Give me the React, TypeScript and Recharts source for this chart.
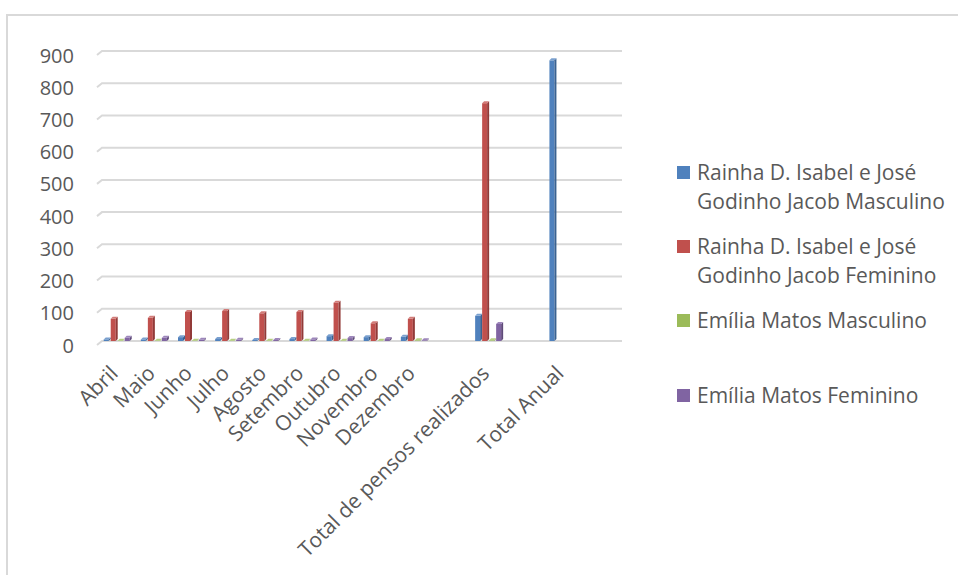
import React from 'react'
import { BarChart, Bar, XAxis, YAxis, CartesianGrid } from 'recharts'

// Categories: the months, then a spacer, the totals row, a spacer and the year total
const categories = [
  'Abril', 'Maio', 'Junho', 'Julho', 'Agosto', 'Setembro', 'Outubro', 'Novembro', 'Dezembro',
  '', 'Total de pensos realizados', ' ', 'Total Anual', '  ',
]

const rainhaMasculino = [5, 5, 12, 6, 3, 6, 15, 12, 13, null, 78, null, 871, null]
const rainhaFeminino = [69, 72, 90, 93, 86, 90, 119, 55, 69, null, 738, null, null, null]
const emiliaMasculino = [1, 1, 1, 1, 1, 1, 1, 1, 2, null, 2, null, null, null]
const emiliaFeminino = [10, 10, 4, 4, 3, 5, 9, 6, 2, null, 53, null, null, null]

const yTicks = [0, 100, 200, 300, 400, 500, 600, 700, 800, 900]

const series = [
  { key: 'rm', name: 'Rainha D. Isabel e José Godinho Jacob Masculino', values: rainhaMasculino, color: '#4f81bd', side: '#3a6291', top: '#7aa0cf' },
  { key: 'rf', name: 'Rainha D. Isabel e José Godinho Jacob Feminino', values: rainhaFeminino, color: '#c0504d', side: '#923a38', top: '#d27b78' },
  { key: 'em', name: 'Emília Matos Masculino', values: emiliaMasculino, color: '#9bbb59', side: '#768f42', top: '#b6cf82' },
  { key: 'ef', name: 'Emília Matos Feminino', values: emiliaFeminino, color: '#8064a2', side: '#5f4a7a', top: '#9d86bb' },
]

const data = categories.map((name, i) => {
  const row: Record<string, string | number | null> = { name }
  series.forEach((s) => { row[s.key] = s.values[i] })
  return row
})

const FONT = '"Open Sans", sans-serif'
const TEXT = '#595959'

// small 3d column: front face, darker right side, lighter top
const makeShape = (side: string, top: string) => (props: any) => {
  const { x, y, width, height, fill } = props
  if (x == null || y == null || height == null || height < 0) return <g />
  const d = 2
  const fw = width - d
  return (
    <g>
      <rect x={x} y={y} width={fw} height={height} fill={fill} />
      <polygon points={`${x + fw},${y} ${x + fw + d},${y - d} ${x + fw + d},${y + height - d} ${x + fw},${y + height}`} fill={side} />
      <polygon points={`${x},${y} ${x + fw},${y} ${x + fw + d},${y - d} ${x + d},${y - d}`} fill={top} />
    </g>
  )
}

const GridLine = (props: any) => {
  const { x1, x2, y1 } = props
  return (
    <path
      d={`M${x1 - 3},${y1 + 4} L${x1 + 2},${y1} L${x2 + 2},${y1}`}
      stroke="#d9d9d9"
      strokeWidth={2}
      fill="none"
    />
  )
}

const YTick = (props: any) => {
  const { y, payload } = props
  return (
    <text x={74} y={y + 4} textAnchor="end" dominantBaseline="central" fontFamily={FONT} fontSize={20} fill={TEXT}>
      {payload.value}
    </text>
  )
}

const XTick = (props: any) => {
  const { x, y, payload } = props
  const ax = x - 5
  const ay = y + 20
  return (
    <text
      x={ax}
      y={ay}
      transform={`rotate(-45, ${ax}, ${ay})`}
      textAnchor="end"
      dominantBaseline="central"
      fontFamily={FONT}
      fontSize={21}
      fill={TEXT}
    >
      {payload.value}
    </text>
  )
}

const legendTops = [158, 232, 306, 381]

export default function App() {
  return (
    <div style={{ position: 'fixed', left: 0, top: 0, width: 958, height: 575, overflow: 'hidden', background: '#fff' }}>
      <div style={{ position: 'absolute', left: 6, top: 14, width: 1000, height: 700, border: '2px solid #d9d9d9' }} />
      <div style={{ position: 'absolute', left: 0, top: 0 }}>
        <BarChart
          width={958}
          height={575}
          data={data}
          margin={{ top: 51, right: 338, bottom: 0, left: 0 }}
          barCategoryGap="10%"
          barGap={0}
        >
          <CartesianGrid vertical={false} horizontal={GridLine} />
          <XAxis
            dataKey="name"
            height={234}
            interval={0}
            axisLine={false}
            tickLine={false}
            tick={XTick}
          />
          <YAxis
            width={100}
            domain={[0, 900]}
            ticks={yTicks}
            axisLine={false}
            tickLine={false}
            tick={YTick}
          />
          {series.map((s) => (
            <Bar
              key={s.key}
              dataKey={s.key}
              name={s.name}
              fill={s.color}
              shape={makeShape(s.side, s.top)}
              isAnimationActive={false}
            />
          ))}
        </BarChart>
      </div>
      {series.map((s, i) => (
        <div
          key={s.key}
          style={{ position: 'absolute', left: 677, top: legendTops[i], width: 280, fontFamily: FONT, fontSize: 21, lineHeight: '29px', color: TEXT }}
        >
          <div style={{ position: 'absolute', left: 0, top: 8, width: 13, height: 13, background: s.color }} />
          <div style={{ marginLeft: 20, width: 258 }}>{s.name}</div>
        </div>
      ))}
    </div>
  )
}
